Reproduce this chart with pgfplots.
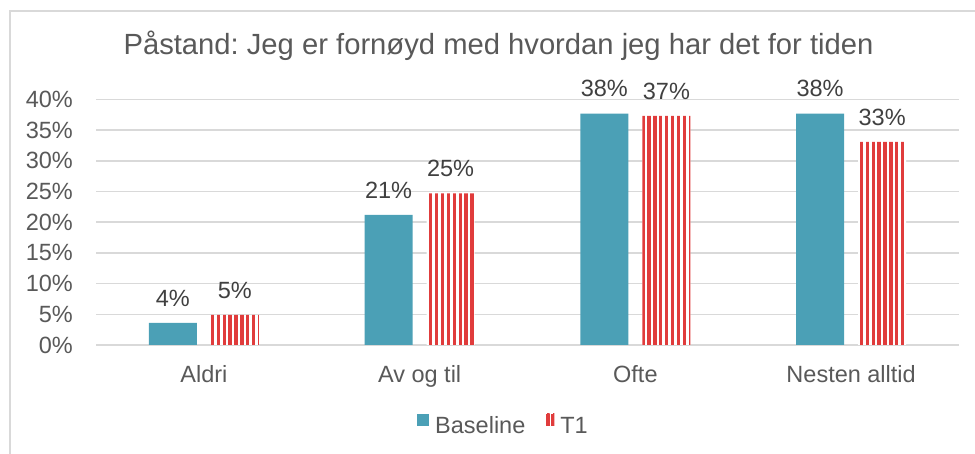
\documentclass[border=0pt]{standalone}
\usepackage{pgfplots}
\pgfplotsset{compat=1.18}
\usepackage{fontspec}
\setmainfont{Liberation Sans}
\usetikzlibrary{patterns.meta}
\definecolor{basecol}{HTML}{4BA0B6}
\definecolor{t1col}{HTML}{E03C3C}
\definecolor{gridcol}{HTML}{D9D9D9}
\definecolor{txtcol}{HTML}{595959}
\definecolor{lblcol}{HTML}{404040}
\newcommand{\lblfont}{\fontsize{23.5bp}{28bp}\selectfont}
\frenchspacing

\begin{document}
\begin{tikzpicture}
\useasboundingbox (0,0) rectangle (975bp,454bp);
\draw[gridcol, line width=1.5bp] (10bp,0) -- (10bp,443bp) -- (975bp,443bp);
\begin{axis}[
  at={(96bp,109bp)}, anchor=south west,
  scale only axis, width=863bp, height=245.6bp,
  ybar, bar width=0.2225,
  xmin=-0.5, xmax=3.5, ymin=0, ymax=40,
  xtick={0,1,2,3},
  xticklabels={Aldri,Av og til,Ofte,Nesten alltid},
  ytick={0,5,...,40},
  yticklabel={\pgfmathprintnumber{\tick}\%},
  /pgf/number format/assume math mode=true,
  axis line style={draw=none},
  major tick length=0pt,
  ymajorgrids, grid style={gridcol, line width=1.5bp},
  tick label style={font=\lblfont, text=txtcol},
  yticklabel style={anchor=east, inner sep=0pt, xshift=-23bp},
  xticklabel style={anchor=base, inner sep=0pt, yshift=-37bp},
  title={Påstand: Jeg er fornøyd med hvordan jeg har det for tiden},
  title style={at={(axis description cs:0.4664,1.1604)}, anchor=base,
    inner sep=0pt, font=\fontsize{29.2bp}{35bp}\selectfont, text=txtcol},
  nodes near coords={\pgfmathprintnumber[fixed,precision=0]{\pgfplotspointmeta}\%},
  every node near coord/.append style={font=\lblfont, text=lblcol,
    anchor=base, inner sep=0pt, yshift=16.7bp},
  legend columns=-1,
  legend style={at={(axis description cs:0.372,-0.3237)}, anchor=west,
    draw=none, fill=none, inner sep=0pt, font=\lblfont, text=txtcol,
    nodes={inner sep=0pt},
    /tikz/every odd column/.append style={column sep=6bp},
    /tikz/every even column/.append style={column sep=21bp}},
]
% Baseline
\addplot[fill=basecol, draw=none, bar shift=-0.1437,
  legend image code/.code={\fill[basecol] (0bp,0bp) rectangle (12bp,12bp);}]
  coordinates {(0,3.6) (1,21.2) (2,37.7) (3,37.7)};
% T1
\addplot[fill=white, draw=none, bar shift=0.1437,
  postaction={pattern={Lines[angle=90, distance=5.9bp, line width=3.3bp]}, pattern color=t1col},
  legend image code/.code={\fill[t1col] (0bp,0bp) rectangle (3.2bp,12bp);
    \fill[t1col] (4.8bp,0bp) rectangle (8bp,12bp);}]
  coordinates {(0,4.9) (1,24.7) (2,37.3) (3,33.1)};
\legend{Baseline,T1}
\end{axis}
\end{tikzpicture}
\end{document}
